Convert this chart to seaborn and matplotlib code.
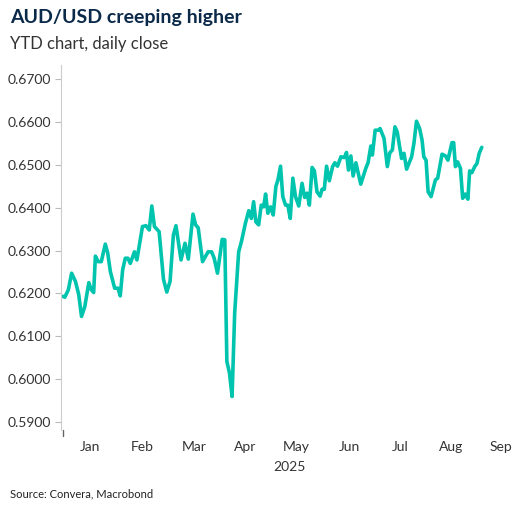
import numpy as np
import pandas as pd
import matplotlib
matplotlib.use("Agg")
import matplotlib.pyplot as plt
import seaborn as sns

# day of year (0 = 1 Jan 2025) and daily close
days = [0.2, 1.3, 3.3, 5.2, 7.4, 9.3, 10.9, 12.8, 15.1, 16.6, 17.9, 18.9, 20.5, 22.3, 24.6, 26.0,
        27.5, 30.0, 31.9, 33.2, 34.6, 36.1, 37.6, 39.0, 41.4, 42.8, 46.0, 48.0, 49.9, 51.4, 52.9,
        55.6, 58.1, 60.0, 61.9, 63.8, 65.3, 68.2, 70.5, 72.4, 75.1, 76.6, 78.1, 80.6, 83.8, 85.8,
        87.3, 89.2, 91.9, 93.4, 94.6, 96.1, 97.6, 99.1, 101.4, 103.0, 105.3, 107.2, 108.7, 110.0,
        111.3, 112.9, 114.4, 115.8, 116.9, 118.2, 119.8, 121.3, 122.8, 124.0, 125.5, 126.8, 128.4,
        129.7, 131.1, 132.6, 134.1, 136.0, 137.9, 139.4, 140.8, 142.1, 143.7, 145.0, 146.5, 148.3,
        149.4, 150.7, 152.0, 153.6, 155.5, 156.8, 158.3, 160.3, 162.2, 163.5, 164.6, 166.0, 167.3,
        168.9, 171.7, 174.6, 175.9, 177.5, 178.4, 180.0, 181.8, 182.8, 185.1, 187.0, 188.4, 189.9,
        191.4, 192.7, 195.2, 196.6, 198.1, 201.0, 202.3, 203.8, 205.6, 207.0, 208.0, 209.3, 210.5,
        212.2, 214.7, 216.0, 218.5, 220.5, 221.9, 224.2, 225.2, 226.2, 227.5, 229.1, 230.4, 231.9,
        233.4, 234.4, 235.7, 237.3, 238.6, 239.9, 241.4]
close = [0.6193, 0.6191, 0.6208, 0.6247, 0.6228, 0.6197, 0.6146, 0.6169, 0.6225, 0.6208, 0.6202,
         0.6287, 0.6274, 0.6274, 0.6315, 0.6294, 0.6251, 0.6212, 0.6212, 0.6194, 0.6255, 0.6282,
         0.6282, 0.6270, 0.6297, 0.6278, 0.6356, 0.6358, 0.6348, 0.6404, 0.6356, 0.6344, 0.6233,
         0.6203, 0.6228, 0.6336, 0.6358, 0.6278, 0.6317, 0.6280, 0.6385, 0.6360, 0.6353, 0.6274,
         0.6297, 0.6297, 0.6282, 0.6247, 0.6326, 0.6325, 0.6041, 0.6014, 0.5959, 0.6154, 0.6297,
         0.6321, 0.6364, 0.6393, 0.6375, 0.6414, 0.6367, 0.6360, 0.6406, 0.6402, 0.6432, 0.6387,
         0.6402, 0.6383, 0.6449, 0.6465, 0.6497, 0.6426, 0.6406, 0.6406, 0.6375, 0.6469, 0.6426,
         0.6404, 0.6457, 0.6424, 0.6434, 0.6406, 0.6494, 0.6486, 0.6437, 0.6427, 0.6443, 0.6443,
         0.6497, 0.6463, 0.6496, 0.6505, 0.6497, 0.6519, 0.6517, 0.6529, 0.6488, 0.6521, 0.6474,
         0.6505, 0.6455, 0.6492, 0.6505, 0.6544, 0.6523, 0.6581, 0.6581, 0.6585, 0.6562, 0.6496,
         0.6528, 0.6535, 0.6589, 0.6577, 0.6515, 0.6527, 0.6490, 0.6519, 0.6550, 0.6602, 0.6585,
         0.6558, 0.6519, 0.6511, 0.6437, 0.6426, 0.6465, 0.6469, 0.6525, 0.6521, 0.6511, 0.6552,
         0.6552, 0.6496, 0.6507, 0.6492, 0.6422, 0.6432, 0.6420, 0.6486, 0.6482, 0.6496, 0.6503,
         0.6527, 0.6541]

month_labels = ["Jan", "Feb", "Mar", "Apr", "May", "Jun", "Jul", "Aug", "Sep"]
month_pos = [16.0, 45.8, 75.6, 105.4, 134.7, 165.0, 194.3, 223.5, 252.7]
y_ticks = [0.59, 0.60, 0.61, 0.62, 0.63, 0.64, 0.65, 0.66, 0.67]

df = pd.DataFrame({"day": days, "close": close})

sns.set_style("white")
plt.rcParams["font.family"] = ["Lato", "DejaVu Sans"]

fig = plt.figure(figsize=(5.2, 5.13), dpi=100)
ax = fig.add_axes([0.117, 0.162, 0.88, 0.711])
sns.lineplot(data=df, x="day", y="close", ax=ax, color="#00C4AD", linewidth=2.6)

ax.set_xlim(-1, 262.5)
ax.set_ylim(0.5881, 0.6733)
ax.set_yticks(y_ticks)
ax.set_yticklabels([f"{v:.4f}" for v in y_ticks], fontsize=10, color="#333333")
ax.set_xticks(month_pos)
ax.set_xticklabels(month_labels, fontsize=10, color="#333333")
ax.tick_params(axis="x", length=0, pad=8)
ax.tick_params(axis="y", length=4, color="#bbbbbb", left=True, pad=3)
# short tick marking the start of the year
ax.axvline(0, ymin=-0.016, ymax=0, color="#666666", linewidth=1, clip_on=False)

for s in ["top", "right", "bottom"]:
    ax.spines[s].set_visible(False)
ax.spines["left"].set_color("#cccccc")
ax.set_xlabel("2025", fontsize=10, color="#333333", labelpad=6)
ax.set_ylabel("")

fig.text(0.019, 0.955, "AUD/USD creeping higher", fontsize=14, fontweight="bold", color="#0b2a4a")
fig.text(0.019, 0.905, "YTD chart, daily close", fontsize=12, color="#333333")
fig.text(0.019, 0.03, "Source: Convera, Macrobond", fontsize=8, color="#222222")

fig.savefig("out.png", dpi=100)
